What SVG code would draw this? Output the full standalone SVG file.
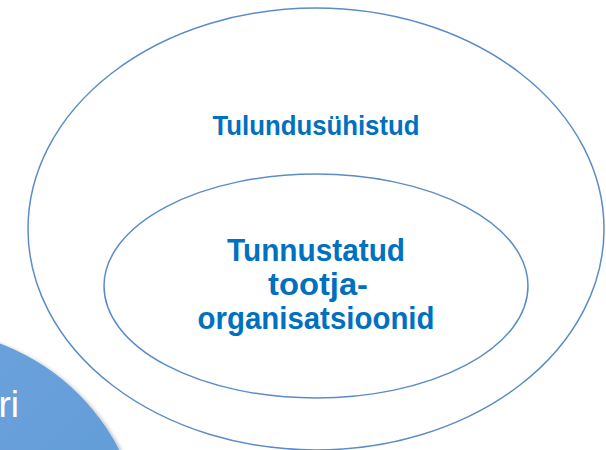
<svg xmlns="http://www.w3.org/2000/svg" width="606" height="450" viewBox="0 0 606 450">
  <style>
    .ring { fill: none; stroke: #5b8cc8; stroke-width: 1.5; }
    .lbl { font-family: "Liberation Sans", Arial, sans-serif; font-weight: bold; fill: #0070c0; text-anchor: middle; }
    .side { font-family: "Liberation Sans", Arial, sans-serif; fill: #ffffff; font-size: 37px; text-anchor: end; }
  </style>
  <defs>
    <linearGradient id="blueFill" x1="0" y1="0" x2="1" y2="1">
      <stop offset="0" stop-color="#72a5de"/>
      <stop offset="1" stop-color="#5a99d6"/>
    </linearGradient>
    <filter id="shadow" x="-20%" y="-20%" width="140%" height="140%">
      <feDropShadow dx="2" dy="2" stdDeviation="2" flood-color="#000000" flood-opacity="0.35"/>
    </filter>
  </defs>
  <rect width="606" height="450" fill="#ffffff"/>

  <g id="side-circle">
    <circle cx="-79" cy="552" r="223" fill="url(#blueFill)" filter="url(#shadow)"/>
    <text class="side" x="19" y="417">ri</text>
  </g>

  <g id="tulundusuhistud">
    <ellipse class="ring" cx="316" cy="229" rx="288" ry="221"/>
    <text class="lbl" x="316" y="135" font-size="27" textLength="207" lengthAdjust="spacingAndGlyphs">Tulundusühistud</text>
  </g>

  <g id="tootjaorganisatsioonid">
    <ellipse class="ring" cx="316" cy="286" rx="212" ry="112"/>
    <text class="lbl" x="316" y="261" font-size="32" textLength="178" lengthAdjust="spacingAndGlyphs">Tunnustatud</text>
    <text class="lbl" x="318" y="295" font-size="32" textLength="100" lengthAdjust="spacingAndGlyphs">tootja-</text>
    <text class="lbl" x="316" y="329" font-size="32" textLength="237" lengthAdjust="spacingAndGlyphs">organisatsioonid</text>
  </g>

  <g id="connectors"/>
</svg>
